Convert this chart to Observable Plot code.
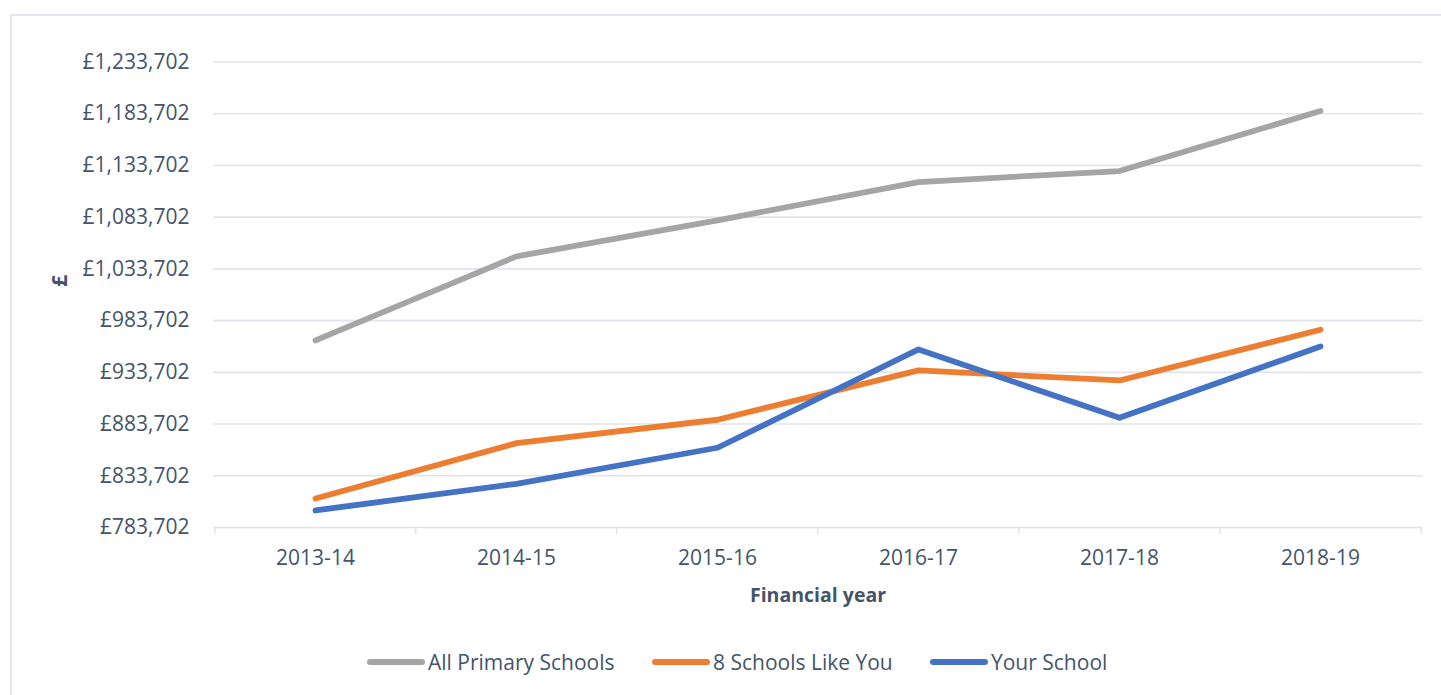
<!DOCTYPE html>
<html>
<head>
<meta charset="utf-8">
<script src="https://cdn.jsdelivr.net/npm/d3@7"></script>
<script src="https://cdn.jsdelivr.net/npm/@observablehq/plot@0.6"></script>
<style>
  html, body { margin: 0; padding: 0; background: #fff; overflow: hidden; width: 1441px; height: 695px; }
  #frame { position: absolute; left: 10px; top: 14px; width: 1500px; height: 800px; border: 2px solid #e3e6ee; box-sizing: border-box; }
  #chart { position: absolute; left: 0; top: 0; }
  #legend { position: absolute; left: 0; top: 648px; width: 1441px; font-family: "Open Sans", sans-serif; font-size: 21px; color: #44546a; }
  .item { position: absolute; top: 0; display: flex; align-items: center; white-space: nowrap; }
  .item svg { margin-right: 3px; }
</style>
</head>
<body>
<div id="frame"></div>
<div id="chart"></div>
<div id="legend"></div>
<script>
const years = ["2013-14", "2014-15", "2015-16", "2016-17", "2017-18", "2018-19"];
const allPrimary = [964550, 1045786, 1080602, 1117642, 1128280, 1186306];
const schoolsLikeYou = [811748, 865229, 887859, 935537, 925866, 974898];
const yourSchool = [800143, 825964, 860780, 955846, 889793, 958747];
const seriesNames = ["All Primary Schools", "8 Schools Like You", "Your School"];
const seriesColors = ["#a5a5a5", "#ed7d31", "#4472c4"];
const yTicks = [783702, 833702, 883702, 933702, 983702, 1033702, 1083702, 1133702, 1183702, 1233702];
const legendLeft = [367, 652, 930];

const seriesValues = [allPrimary, schoolsLikeYou, yourSchool];
const rows = [];
seriesNames.forEach((name, i) => {
  years.forEach((yr, j) => rows.push({series: name, year: yr, value: seriesValues[i][j]}));
});

const width = 1441, height = 620;
const marginLeft = 213, marginRight = 19, marginTop = 61.5, marginBottom = 93;
const step = (width - marginLeft - marginRight) / years.length;
const fmt = d => "£" + d3.format(",")(d);
const textColor = "#44546a";
const gridColor = "#e1e4ea";

const chart = Plot.plot({
  width, height, marginLeft, marginRight, marginTop, marginBottom,
  style: {fontFamily: "'Open Sans', sans-serif", fontSize: "21px", color: textColor, background: "transparent"},
  x: {type: "point", domain: years, padding: 0.5, label: null},
  y: {domain: [yTicks[0], yTicks[yTicks.length - 1]], label: null},
  color: {domain: seriesNames, range: seriesColors},
  marks: [
    Plot.gridY(yTicks, {stroke: gridColor, strokeOpacity: 1, strokeWidth: 1.6}),
    Plot.ruleX(years, {x: d => d, dx: -step / 2, y1: yTicks[0], y2: yTicks[0], insetBottom: -7, stroke: gridColor, strokeWidth: 1.6}),
    Plot.ruleX([years[years.length - 1]], {x: d => d, dx: step / 2, y1: yTicks[0], y2: yTicks[0], insetBottom: -7, stroke: gridColor, strokeWidth: 1.6}),
    Plot.axisY(yTicks, {tickSize: 0, tickPadding: 24, tickFormat: fmt, fill: textColor, fontSize: 21}),
    Plot.axisX(years, {tickSize: 0, tickPadding: 23, fill: textColor, fontSize: 21}),
    Plot.line(rows, {x: "year", y: "value", z: "series", stroke: "series", strokeWidth: 5.8, strokeLinecap: "round", strokeLinejoin: "round"}),
    Plot.text(["£"], {frameAnchor: "left", dx: -153, dy: -8, rotate: -90, fontWeight: "bold", fontSize: 21, fill: textColor}),
    Plot.text(["Financial year"], {frameAnchor: "bottom", dy: 74, fontWeight: "bold", fontSize: 19.5, fill: textColor})
  ]
});
document.getElementById("chart").appendChild(chart);

const legend = document.getElementById("legend");
seriesNames.forEach((name, i) => {
  const item = document.createElement("div");
  item.className = "item";
  item.style.left = legendLeft[i] + "px";
  item.innerHTML = `<svg width="58" height="10"><line x1="3" y1="5" x2="55" y2="5" stroke="${seriesColors[i]}" stroke-width="6" stroke-linecap="round"/></svg><span>${name}</span>`;
  legend.appendChild(item);
});
</script>
</body>
</html>
